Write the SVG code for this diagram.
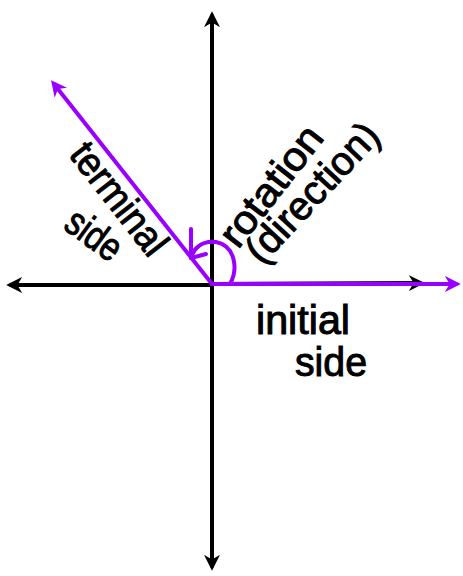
<svg xmlns="http://www.w3.org/2000/svg" width="463" height="576" viewBox="0 0 463 576">
<defs>
<marker id="ab" viewBox="0 0 10 10" refX="7" refY="5" markerWidth="4" markerHeight="4" orient="auto" markerUnits="strokeWidth">
<path d="M0,0 L10,5 L0,10 L3,5 Z" fill="#000"/>
</marker>
<marker id="ap" viewBox="0 0 10 10" refX="7" refY="5" markerWidth="4" markerHeight="4" orient="auto" markerUnits="strokeWidth">
<path d="M0,0 L10,5 L0,10 L3,5 Z" fill="#9900ff"/>
</marker>
<style>
.ax{stroke:#000;stroke-width:4;fill:none;stroke-linecap:round}
.pu{stroke:#9900ff;stroke-width:4;fill:none;stroke-linecap:round;stroke-linejoin:round}
.t{font-family:"Liberation Sans",Arial,sans-serif;font-size:40px;fill:#000;stroke:#000;stroke-width:1}
</style>
</defs>
<rect width="463" height="576" fill="#fff"/>
<g id="axes" class="ax">
<line x1="212" y1="285" x2="212" y2="16" marker-end="url(#ab)"/>
<line x1="212" y1="285" x2="212" y2="566" marker-end="url(#ab)"/>
<line x1="212" y1="285" x2="11" y2="285" marker-end="url(#ab)"/>
<line x1="212" y1="284" x2="420" y2="283" marker-end="url(#ab)"/>
</g>
<g id="connectors">
<line class="pu" x1="212" y1="284" x2="456" y2="284" marker-end="url(#ap)"/>
<line class="pu" x1="212" y1="284" x2="54" y2="84" marker-end="url(#ap)"/>
<path class="pu" d="M230 284 C238 270 236 246 216 242 C202 240 193 249 191 258"/>
<path class="pu" d="M191 229 L191 258 L206 254"/>
</g>
<g id="labels">
<text class="t" transform="translate(238,250) rotate(-52)" textLength="142" lengthAdjust="spacingAndGlyphs">rotation</text>
<text class="t" transform="translate(262,266) rotate(-47)" textLength="176" lengthAdjust="spacingAndGlyphs">(direction)</text>
<text class="t" transform="translate(68,155) rotate(52)" textLength="132" lengthAdjust="spacingAndGlyphs">terminal</text>
<text class="t" transform="translate(62,228) rotate(36)" textLength="60" lengthAdjust="spacingAndGlyphs">side</text>
<text class="t" x="256" y="334" textLength="94" lengthAdjust="spacingAndGlyphs">initial</text>
<text class="t" x="295" y="376" textLength="72" lengthAdjust="spacingAndGlyphs">side</text>
</g>
</svg>
